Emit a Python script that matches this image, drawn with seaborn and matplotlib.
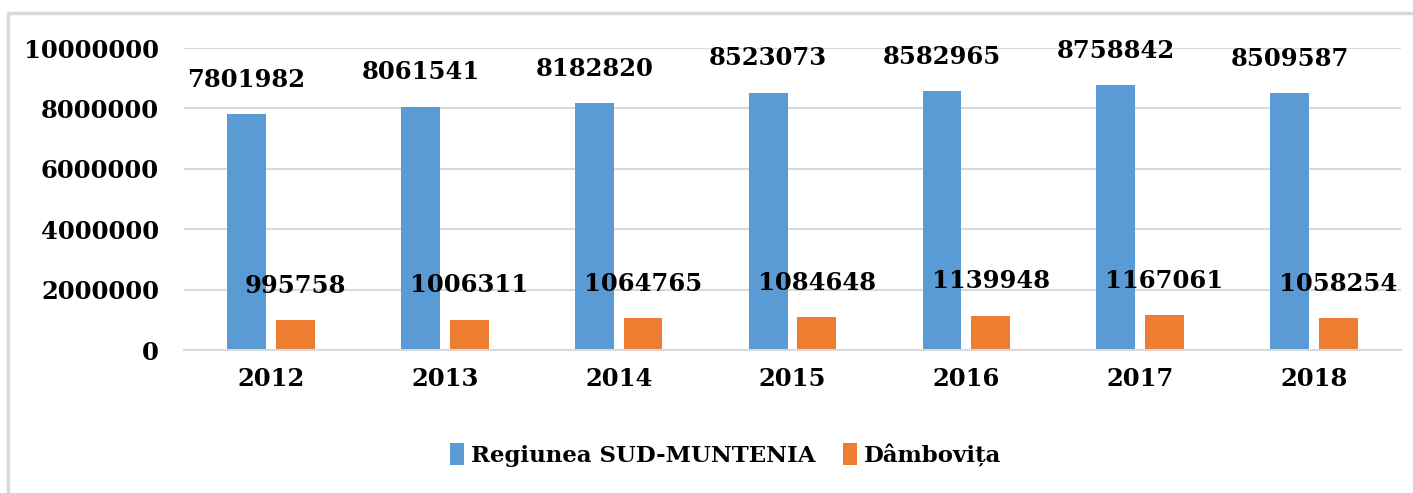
import matplotlib
matplotlib.use('Agg')
import matplotlib.pyplot as plt
import pandas as pd
import seaborn as sns

years = ['2012', '2013', '2014', '2015', '2016', '2017', '2018']
sud_muntenia = [7801982, 8061541, 8182820, 8523073, 8582965, 8758842, 8509587]
dambovita = [995758, 1006311, 1064765, 1084648, 1139948, 1167061, 1058254]
series_names = ['Regiunea SUD-MUNTENIA', 'Dâmbovița']
colors = ['#5b9bd5', '#ed7d31']

df = pd.DataFrame({
    'year': years * 2,
    'value': sud_muntenia + dambovita,
    'serie': [series_names[0]] * len(years) + [series_names[1]] * len(years),
})

sns.set_style('white')
plt.rcParams['font.family'] = ['DejaVu Serif']
plt.rcParams['text.color'] = 'black'
plt.rcParams['xtick.color'] = 'black'
plt.rcParams['ytick.color'] = 'black'

fig = plt.figure(figsize=(14.13, 4.93), dpi=100)
ax = fig.add_axes([184 / 1413, 1 - 350 / 493, (1401 - 184) / 1413, (350 - 48) / 493])

sns.barplot(data=df, x='year', y='value', hue='serie', palette=colors,
            width=0.56, gap=0.2, ax=ax, saturation=1, linewidth=0, legend=True)

ax.set_ylim(0, 10000000)
ax.set_yticks(range(0, 10000001, 2000000))
ax.set_yticklabels([str(v) for v in range(0, 10000001, 2000000)])
ax.set_xlabel('')
ax.set_ylabel('')
ax.grid(axis='y', color='#d9d9d9', linewidth=1.5)
ax.set_axisbelow(True)
for s in ['top', 'right', 'left']:
    ax.spines[s].set_visible(False)
ax.spines['bottom'].set_color('#d9d9d9')
ax.spines['bottom'].set_linewidth(1.5)
ax.tick_params(axis='y', length=0, labelsize=17.5, pad=18)
ax.tick_params(axis='x', length=0, labelsize=17.5, pad=12)
for lbl in ax.get_xticklabels() + ax.get_yticklabels():
    lbl.set_fontweight('bold')

for cont in ax.containers:
    ax.bar_label(cont, labels=[str(int(v)) for v in cont.datavalues],
                 padding=16, fontsize=17.5, fontweight='bold', color='black', clip_on=False)

ax.legend(loc='upper center', bbox_to_anchor=(0.445, -0.24), ncol=2,
          frameon=False, handlelength=0.6, handleheight=1.1, handletextpad=0.3,
          columnspacing=1.2, prop={'size': 16.5, 'weight': 'bold'})

# light gray frame at top and left like the cropped source
fig.add_artist(plt.Line2D([8 / 1413, 1], [1 - 13 / 493, 1 - 13 / 493],
                          transform=fig.transFigure, color='#d9d9d9', linewidth=2.5))
fig.add_artist(plt.Line2D([8 / 1413, 8 / 1413], [0, 1 - 13 / 493],
                          transform=fig.transFigure, color='#d9d9d9', linewidth=2.5))

fig.savefig('out.png', dpi=100)
